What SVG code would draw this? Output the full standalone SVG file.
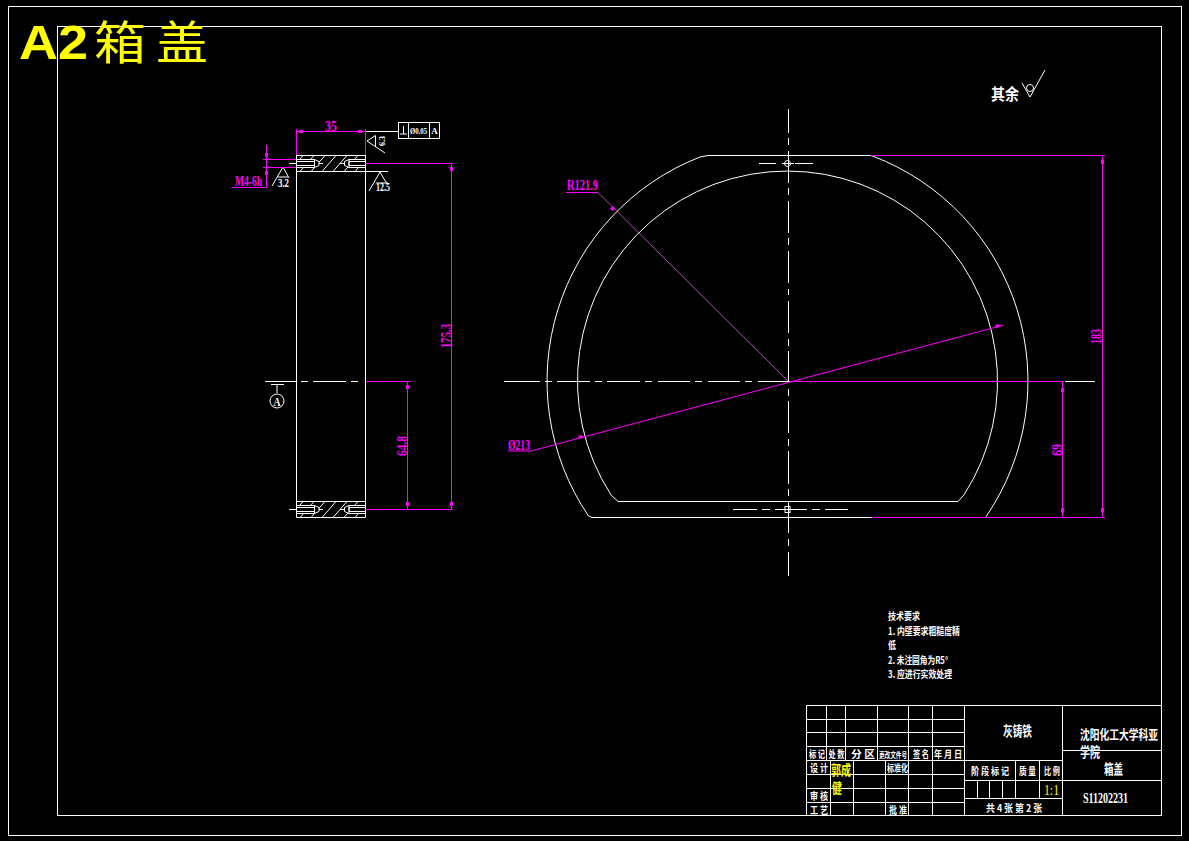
<svg xmlns="http://www.w3.org/2000/svg" width="1189" height="841" viewBox="0 0 1189 841">
<style>
.w{fill:none;stroke:#fff;stroke-width:1}
.m{fill:none;stroke:#f0f;stroke-width:1}
.mt{fill:none;stroke:#f6f;stroke-width:.7}
.tk{fill:#f0f;stroke:none}
.t{font-family:"Liberation Serif","Noto Sans CJK SC",serif;font-weight:bold;fill:#fff}
.c{font-family:"Noto Sans CJK SC",sans-serif;font-weight:bold;fill:#fff}
.tm{font-family:"Liberation Serif",serif;font-weight:bold;fill:#f0f;font-size:15px}
.y{fill:#ff0}
.mid{text-anchor:middle}
.s9{font-size:9px}
.s10{font-size:10px}
.s12{font-size:12px}
.s13{font-size:13px}
.s14{font-size:14px}
</style>
<defs>
<clipPath id="band"><rect x="296.500" y="155.500" width="69" height="16"/></clipPath>
<g id="section">
<g clip-path="url(#band)">
<path class="w" d="M289 171.500L303 155.500M300 171.500L314 155.500M311 171.500L325 155.500M322 171.500L336 155.500M333 171.500L347 155.500M344 171.500L358 155.500M355 171.500L369 155.500"/>
</g>
<path d="M296.500 159.500H314.500L319 161.500V165.500L314.500 167.500H296.500Z M365.500 159.500H349L344.500 161.500V165.500L349 167.500H365.500Z" fill="#000" stroke="#fff"/>
<path class="w" d="M296.500 161.500H314.500V165.500H296.500M314.500 159.500V167.500M365.500 161.500H349V165.500H365.500M349 159.500V167.500M319 163.500H323M340 163.500H344.500"/>
</g>
</defs>
<rect width="1189" height="841" fill="#000"/>
<g id="frame">
<rect class="w" x="8.500" y="6.500" width="1173" height="829"/>
<rect class="w" x="57.500" y="26.500" width="1104" height="789"/>
</g>
<g id="sheet-title">
<text x="19" y="59" font-family="Liberation Sans,sans-serif" font-weight="bold" font-size="48" fill="#ff0" textLength="69" lengthAdjust="spacingAndGlyphs">A2</text>
<text x="94" y="59" font-family="Noto Sans CJK SC,sans-serif" font-size="46" fill="#ff0" textLength="52" lengthAdjust="spacingAndGlyphs">箱</text>
<text x="156" y="59" font-family="Noto Sans CJK SC,sans-serif" font-size="46" fill="#ff0" textLength="52" lengthAdjust="spacingAndGlyphs">盖</text>
</g>
<g id="side-view">
<path class="w" d="M296.500 155V517.500M365.500 155V517.500M296.500 155.500H365.500M296.500 171.500H388M296.500 501.500H365.500M296.500 517.500H365.500"/>
<use href="#section"/>
<use href="#section" y="346"/>
<path class="w" d="M289 163.500H296.500M289 509.500H296.500"/>
<path class="w" d="M265 381.500H296.500M301 381.500H308M313 381.500H346M351 381.500H358M277 384V393M271 384.500H284"/>
<circle class="w" cx="277" cy="401" r="7"/>
<text class="t s12 mid" x="277" y="405.500" textLength="7" lengthAdjust="spacingAndGlyphs">A</text>
<path class="w" d="M365 131.500H398M375.500 135.500L367 141L385 153M375.500 135.500V147M272 186L283 167L289 178M278 177H288M369 191L380 172L387 184M376 183H388"/>
<rect class="w" x="398.500" y="122.500" width="41" height="16"/>
<path class="w" d="M408.500 122.500V138.500M429.500 122.500V138.500M403.500 126V134M400 134H407"/>
<text class="t s9" x="410" y="134" textLength="17" lengthAdjust="spacingAndGlyphs">Ø0.05</text>
<text class="t s9 mid" x="434.500" y="134">A</text>
<text class="t s9" transform="translate(385,146) rotate(-90)" textLength="10" lengthAdjust="spacingAndGlyphs">6.3</text>
<text class="t s12" x="278" y="187" textLength="11" lengthAdjust="spacingAndGlyphs">3.2</text>
<text class="t s12" x="376" y="191" textLength="14" lengthAdjust="spacingAndGlyphs">12.5</text>
</g>
<g id="front-view">
<path class="w" d="M708 155.500H871L873 156.200A240.500 240.500 0 0 1 985.800 517L985.500 517.500H592L588.500 516A240.500 240.500 0 0 1 700 157Z"/>
<path class="w" d="M618 501.500H958L963.900 495A210 210 0 1 0 611.100 495Z"/>
<path class="w" d="M504 381.500H540M545 381.500H552M557 381.500H590M595 381.500H602M607 381.500H640M645 381.500H652M658 381.500H690M695 381.500H702M708 381.500H740M745 381.500H752M758 381.500H790M1065 381.500H1095"/>
<path class="w" d="M788.500 109V133M788.500 138V145M788.500 151V183M788.500 188V195M788.500 201V233M788.500 238V245M788.500 251V283M788.500 289V295M788.500 301V333M788.500 339V346M788.500 351V381M788.500 389V396M788.500 401V433M788.500 439V446M788.500 451V484M788.500 489V496M788.500 501V533M788.500 539V546M788.500 552V576"/>
<path class="w" d="M759 163.500H776M795 163.500H813M782 163.500H794M733 509.500H757M762 509.500H770M775 509.500H807M812 509.500H820M825 509.500H848"/>
<circle class="w" cx="787.500" cy="163.500" r="3"/>
<rect class="w" x="785" y="506.500" width="5" height="6"/>
</g>
<g id="connectors">
<path class="m" d="M296.500 129V155M365.500 129V155M296.500 131.500H365.500M263 159.500H296M263 167.500H296M266.500 145V187.500H232M365.500 163.500H453M451.500 163V509M365.500 509.500H453M365.500 381.500H411M407.500 381V509M871 155.500H1105M872 517.500H1105M1102.500 155V517M790 381.500H1064M1062.500 381V517M566 192.500H598M1004 325L531 451H508"/>
<path class="mt" d="M598 192.500L788 381"/>
<path class="tk" d="M299 130h4v3h-4zM358 130h4v3h-4zM265 153h3v4h-3zM265 171h3v4h-3zM450 167h3v4h-3zM450 502h3v4h-3zM406 385h3v4h-3zM406 502h3v4h-3zM1101 160h3v4h-3zM1101 508h3v4h-3zM1061 388h3v4h-3zM1061 508h3v4h-3zM612 206l3 2-2 3-3-2zM995 325l4 -1 1 3-4 1zM578 436l4 -1 1 3-4 1z"/>
</g>
<g id="dimension-labels">
<text class="tm" x="325" y="131" textLength="12" lengthAdjust="spacingAndGlyphs">35</text>
<text class="tm" x="235" y="186" textLength="27" lengthAdjust="spacingAndGlyphs">M4-6h</text>
<text class="tm" transform="translate(451,348) rotate(-90)" textLength="24" lengthAdjust="spacingAndGlyphs">175.3</text>
<text class="tm" transform="translate(407,456) rotate(-90)" textLength="20" lengthAdjust="spacingAndGlyphs">64.8</text>
<text class="tm" x="567" y="190" textLength="31" lengthAdjust="spacingAndGlyphs">R121.9</text>
<text class="tm" x="508" y="450" textLength="22" lengthAdjust="spacingAndGlyphs">Ø213</text>
<text class="tm" transform="translate(1101,344) rotate(-90)" textLength="15" lengthAdjust="spacingAndGlyphs">183</text>
<text class="tm" transform="translate(1062,456) rotate(-90)" textLength="12" lengthAdjust="spacingAndGlyphs">69</text>
</g>
<g id="roughness-note">
<text class="c" x="991" y="100" font-size="16" font-weight="400" textLength="28" lengthAdjust="spacingAndGlyphs">其余</text>
<path class="w" d="M1022 83L1030 97L1045 70"/>
<circle class="w" cx="1030" cy="88" r="3.500"/>
</g>
<g id="technical-notes">
<text class="c s10" x="888" y="620" textLength="32" lengthAdjust="spacingAndGlyphs">技术要求</text>
<text class="c s10" x="888" y="635" textLength="72" lengthAdjust="spacingAndGlyphs">1. 内壁要求粗糙度精</text>
<text class="c s10" x="888" y="649" textLength="8" lengthAdjust="spacingAndGlyphs">低</text>
<text class="c s10" x="888" y="664" textLength="60" lengthAdjust="spacingAndGlyphs">2. 未注圆角为R5°</text>
<text class="c s10" x="888" y="678" textLength="64" lengthAdjust="spacingAndGlyphs">3. 应进行实效处理</text>
</g>
<g id="title-block">
<path class="w" d="M806.500 705.500H1161.500M806.500 719.500H964M806.500 732.500H964M806.500 746.500H964M806.500 760.500H1062M806.500 774.500H964M806.500 788.500H964M806.500 802.500H964M806.500 815.500H1161.500"/>
<path class="w" d="M806.500 705.500V815.500M826.500 705.500V760.500M845.500 705.500V760.500M877.500 705.500V760.500M908.500 705.500V815.500M932.500 705.500V815.500M830.500 760.500V815.500M853.500 760.500V815.500M885.500 760.500V815.500M964.500 705.500V815.500M1062.500 705.500V815.500"/>
<path class="w" d="M1062 750.500H1161.500M964 780.500H1161.500M964 798.500H1062M1015.500 760.500V798.500M1039.500 760.500V798.500M977.500 780.500V798.500M989.500 780.500V798.500M1002.500 780.500V798.500"/>
<g class="c s10">
<text x="809" y="758" textLength="16" lengthAdjust="spacingAndGlyphs">标 记</text>
<text x="828.500" y="758" textLength="16" lengthAdjust="spacingAndGlyphs">处 数</text>
<text x="851" y="758" textLength="24" lengthAdjust="spacingAndGlyphs">分  区</text>
<text x="879" y="758" textLength="28" font-size="8" lengthAdjust="spacingAndGlyphs">更改文件号</text>
<text x="913" y="758" textLength="16" lengthAdjust="spacingAndGlyphs">签 名</text>
<text x="934" y="758" textLength="28" lengthAdjust="spacingAndGlyphs">年 月 日</text>
<text x="810" y="772" textLength="18" lengthAdjust="spacingAndGlyphs">设 计</text>
<text x="887" y="772" textLength="21" lengthAdjust="spacingAndGlyphs">标准化</text>
<text x="810" y="800" textLength="18" lengthAdjust="spacingAndGlyphs">审 核</text>
<text x="810" y="814" textLength="18" lengthAdjust="spacingAndGlyphs">工 艺</text>
<text x="889" y="814" textLength="18" lengthAdjust="spacingAndGlyphs">批 准</text>
<text x="971" y="775" textLength="38" lengthAdjust="spacingAndGlyphs">阶 段 标 记</text>
<text x="1019" y="775" textLength="17" lengthAdjust="spacingAndGlyphs">质 量</text>
<text x="1044" y="775" textLength="16" lengthAdjust="spacingAndGlyphs">比 例</text>
<text x="986" y="812" textLength="56" lengthAdjust="spacingAndGlyphs">共 4 张  第 2 张</text>
</g>
<text class="c y s14" x="831" y="775" textLength="20" lengthAdjust="spacingAndGlyphs">郭成</text>
<text class="c y s14" x="832" y="793" textLength="10" lengthAdjust="spacingAndGlyphs">健</text>
<text x="1044" y="795" font-family="Liberation Serif,serif" font-size="14" fill="#ff0" textLength="15" lengthAdjust="spacingAndGlyphs">1:1</text>
<text class="c s14" x="1003" y="736" textLength="29" lengthAdjust="spacingAndGlyphs">灰铸铁</text>
<text class="c s13" x="1080" y="739" textLength="78" lengthAdjust="spacingAndGlyphs">沈阳化工大学科亚</text>
<text class="c s14" x="1080" y="757" textLength="20" lengthAdjust="spacingAndGlyphs">学院</text>
<text class="c s14" x="1104" y="774" textLength="19" lengthAdjust="spacingAndGlyphs">箱盖</text>
<text class="t s14" x="1083" y="803" textLength="45" lengthAdjust="spacingAndGlyphs">S11202231</text>
</g>
</svg>
